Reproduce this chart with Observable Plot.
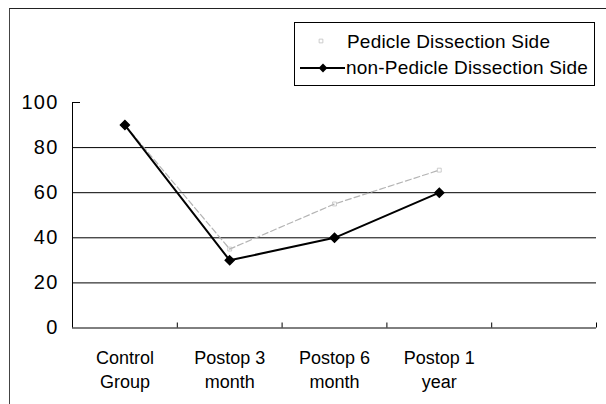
<!DOCTYPE html>
<html>
<head>
<meta charset="utf-8">
<script src="https://cdn.jsdelivr.net/npm/d3@7"></script>
<script src="https://cdn.jsdelivr.net/npm/@observablehq/plot@0.6"></script>
<style>
  html, body { margin: 0; padding: 0; background: #fff; }
  #wrap { position: relative; width: 606px; height: 404px; overflow: hidden;
          font-family: "Liberation Sans", Arial, sans-serif; }
  #frame { position: absolute; left: 9px; top: 8px; right: -2px; bottom: -2px;
           border-top: 1px solid #222; border-left: 1px solid #444; pointer-events: none; }
  #legend { position: absolute; left: 294px; top: 22px; width: 299px; height: 62px;
            border: 1px solid #000; background: #fff; font-size: 19px; letter-spacing: 0.2px; color: #000; }
  #legend .row { position: absolute; left: 0; height: 24px; display: flex; align-items: center; white-space: nowrap; }
  #legend svg { display: block; flex: none; }
</style>
</head>
<body>
<div id="wrap">
  <div id="chart"></div>
  <div id="frame"></div>
  <div id="legend"></div>
</div>
<script>
// ---- data ----
const categories = ["Control Group", "Postop 3 month", "Postop 6 month", "Postop 1 year"];
const categoryLabels = ["Control\nGroup", "Postop 3\nmonth", "Postop 6\nmonth", "Postop 1\nyear"];
const slotCount = 5; // axis has one extra empty category slot
const pedicleValues = [90, 35, 55, 70];
const nonPedicleValues = [90, 30, 40, 60];
const seriesNames = ["Pedicle Dissection Side", "non-Pedicle Dissection Side"];
const yTicks = [0, 20, 40, 60, 80, 100];
const gridValues = [20, 40, 60, 80];
const slotBoundaries = [1, 2, 3, 4, 5];

// ---- build table ----
const pedicle = categories.map((c, i) => ({cat: c, pos: i + 0.5, value: pedicleValues[i]}));
const nonPedicle = categories.map((c, i) => ({cat: c, pos: i + 0.5, value: nonPedicleValues[i]}));
const labelRows = categories.map((c, i) => ({pos: i + 0.5, label: categoryLabels[i]}));

const chart = Plot.plot({
  width: 606,
  height: 404,
  marginLeft: 72,
  marginRight: 10,
  marginTop: 102,
  marginBottom: 76.5,
  style: {fontFamily: "'Liberation Sans', Arial, sans-serif", background: "transparent", color: "#000"},
  x: {type: "linear", domain: [0, slotCount], axis: null},
  y: {type: "linear", domain: [0, 100], axis: null},
  marks: [
    Plot.ruleY(gridValues, {stroke: "#000", strokeWidth: 1}),
    // y axis line and inner tick at top
    Plot.ruleX([0], {y1: 0, y2: 100, stroke: "#000", strokeWidth: 1}),
    Plot.ruleY([100], {x1: 0, x2: 0, insetRight: -8, stroke: "#000", strokeWidth: 1}),
    // x axis line and inner ticks at slot boundaries
    Plot.ruleY([0], {x1: 0, x2: slotCount, stroke: "#000", strokeWidth: 1}),
    Plot.ruleX(slotBoundaries, {y1: 0, y2: 0, insetTop: -5, stroke: "#000", strokeWidth: 1}),
    // y tick labels
    Plot.text(yTicks, {x: 0, y: d => d, text: d => String(d), dx: -14, textAnchor: "end", fontSize: 20, fill: "#000",
                       style: "letter-spacing:1.2px"}),
    // x category labels
    Plot.text(labelRows, {x: "pos", y: 0, text: "label", dy: 40.5, lineAnchor: "middle", lineHeight: 1.35, fontSize: 18, fill: "#000"}),
    // pedicle side (light grey)
    Plot.line(pedicle, {x: "pos", y: "value", stroke: "#b4b4b4", strokeWidth: 1.2, strokeDasharray: "6,3"}),
    Plot.dot(pedicle, {x: "pos", y: "value", symbol: "square", r: 2.2, stroke: "#c0c0c0", strokeWidth: 0.8, fill: "none"}),
    // non-pedicle side (black)
    Plot.line(nonPedicle, {x: "pos", y: "value", stroke: "#000", strokeWidth: 2}),
    Plot.dot(nonPedicle, {x: "pos", y: "value", symbol: "diamond2", r: 4, fill: "#000", stroke: "#000"})
  ]
});
document.getElementById("chart").appendChild(chart);
// letter-spacing on y labels
d3.select(chart).selectAll("text").filter(function() { return yTicks.map(String).includes(this.textContent); })
  .style("letter-spacing", "1.2px");

// ---- legend ----
const legend = document.getElementById("legend");
function legendRow(top, name, drawSwatch) {
  const row = document.createElement("div");
  row.className = "row";
  row.style.top = top + "px";
  const svg = d3.create("svg").attr("width", 51).attr("height", 24);
  drawSwatch(svg);
  row.appendChild(svg.node());
  const span = document.createElement("span");
  span.textContent = name;
  row.appendChild(span);
  legend.appendChild(row);
}
legendRow(7, seriesNames[0], svg => {
  svg.attr("width", 52);
  svg.append("path").attr("d", d3.symbol(d3.symbolSquare, 14)()).attr("transform", "translate(26,11)")
    .attr("fill", "none").attr("stroke", "#c0c0c0").attr("stroke-width", 0.8);
});
legendRow(33, seriesNames[1], svg => {
  svg.append("line").attr("x1", 5).attr("x2", 50).attr("y1", 12).attr("y2", 12)
    .attr("stroke", "#000").attr("stroke-width", 2);
  svg.append("path").attr("d", d3.symbol(d3.symbolDiamond2, 50)()).attr("transform", "translate(28,12)")
    .attr("fill", "#000");
});
</script>
</body>
</html>
